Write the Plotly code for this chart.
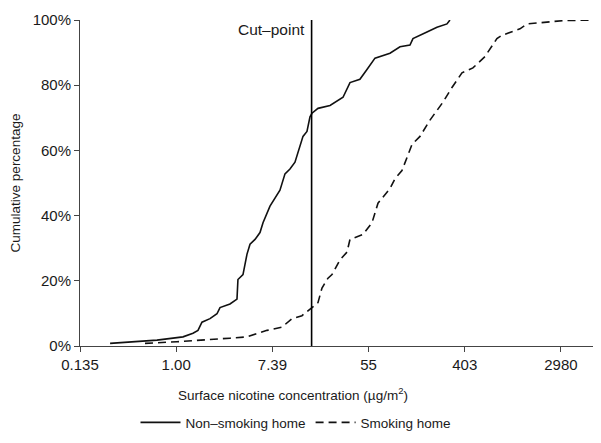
import math
import plotly.graph_objects as go

# Non-smoking homes: surface nicotine (ug/m2) vs cumulative percentage
nonsmoking_conc = [0.253, 0.671, 1.152, 1.418, 1.573, 1.709, 2.02, 2.335, 2.487, 3.06,
                   3.54, 3.61, 4.01, 4.36, 4.64, 5.15, 5.71, 6.08, 7.03, 8.65,
                   9.60, 10.65, 11.82, 13.12, 13.96, 15.17, 16.15, 16.83, 19.07, 24.5,
                   32.1, 37.1, 45.6, 52.8, 62.4, 85.2, 104.9, 129.1, 137.4, 183.8,
                   226.3, 278.7, 296.5]
nonsmoking_pct = [0.8, 1.8, 2.8, 3.9, 4.8, 7.3, 8.4, 9.9, 11.8, 12.9,
                  14.4, 20.4, 21.9, 28.2, 31.2, 32.7, 34.8, 37.8, 42.9, 47.8,
                  52.8, 54.3, 56.4, 61.8, 64.3, 65.8, 70.3, 71.4, 72.9, 73.8,
                  76.3, 80.8, 81.8, 84.8, 88.3, 89.8, 91.8, 92.3, 94.3, 96.3,
                  97.8, 98.8, 100.0]

# Smoking homes
smoking_conc = [0.523, 1.017, 3.06, 4.36, 6.61, 9.03, 11.10, 13.67, 16.83, 19.07,
                20.72, 23.48, 25.51, 30.12, 34.85, 37.08, 48.6, 58.6, 66.4, 72.2,
                85.2, 94.5, 109.3, 134.6, 159.0, 195.8, 256.4, 309.2, 380.6, 478.0,
                614.0, 787.0, 874.0, 1271.0, 1470.0, 3110.0, 5800.0]
smoking_pct = [0.8, 1.3, 2.4, 2.8, 4.8, 5.8, 8.4, 9.3, 11.8, 13.3,
               17.8, 20.8, 21.9, 26.4, 28.8, 32.7, 34.2, 37.8, 43.8, 45.3,
               48.3, 51.3, 53.8, 61.8, 64.3, 69.3, 74.8, 79.3, 83.8, 85.3,
               88.8, 94.3, 95.3, 97.3, 98.8, 99.8, 100.0]

cut_point = 16.7

x_tick_exps = [-2, 0, 2, 4, 6, 8]
x_tick_labels = ["0.135", "1.00", "7.39", "55", "403", "2980"]
y_ticks = [0, 20, 40, 60, 80, 100]
y_tick_labels = ["0%", "20%", "40%", "60%", "80%", "100%"]

FONT = "Liberation Sans, Arial, sans-serif"
TXT = "#1a1a1a"
AX = "#444444"

fig = go.Figure()
fig.add_trace(go.Scatter(x=nonsmoking_conc, y=nonsmoking_pct, mode="lines",
                         name="Non\u2013smoking home",
                         line=dict(color="#111111", width=1.6)))
fig.add_trace(go.Scatter(x=smoking_conc, y=smoking_pct, mode="lines",
                         name="Smoking home",
                         line=dict(color="#111111", width=1.6, dash="8px,5px")))
fig.add_trace(go.Scatter(x=[cut_point, cut_point], y=[0, 100], mode="lines",
                         showlegend=False, hoverinfo="skip",
                         line=dict(color="#000000", width=1.6)))

fig.add_annotation(x=math.log10(cut_point), y=97.2, xref="x", yref="y",
                   text="Cut\u2013point", showarrow=False, xanchor="right",
                   yanchor="middle", xshift=-5, font=dict(size=15.5, color=TXT, family=FONT))

# x-axis title, centred like the reference (left of the plot centre)
fig.add_annotation(x=0.411, y=-0.147, xref="paper", yref="paper",
                   text="Surface nicotine concentration (\u00b5g/m<sup>2</sup>)",
                   showarrow=False, xanchor="center", yanchor="middle",
                   font=dict(size=13.5, color=TXT, family=FONT))

# page body has an 8px margin, so the figure is sized/offset to compensate
fig.update_layout(
    width=593, height=435,
    margin=dict(l=72, r=3, t=5, b=97),
    paper_bgcolor="white", plot_bgcolor="white",
    font=dict(family=FONT, size=13.5, color=TXT),
    showlegend=True,
    legend=dict(orientation="h", x=0.417, xanchor="center", y=-0.235, yanchor="middle",
                font=dict(size=13.5, color=TXT), itemwidth=40, tracegroupgap=0),
)
fig.update_xaxes(
    type="log",
    range=[-2 / math.log(10), 8.77 / math.log(10)],
    tickvals=[math.exp(k) for k in x_tick_exps], ticktext=x_tick_labels,
    ticks="outside", ticklen=5, tickcolor=AX, tickfont=dict(size=15, color=TXT),
    ticklabeloverflow="allow",
    showline=True, linecolor=AX, linewidth=1, showgrid=False, zeroline=False,
)
fig.update_yaxes(
    range=[0, 100],
    tickvals=y_ticks, ticktext=y_tick_labels,
    ticks="outside", ticklen=5, tickcolor=AX, tickfont=dict(size=15, color=TXT),
    ticklabeloverflow="allow",
    showline=True, linecolor=AX, linewidth=1, showgrid=False, zeroline=False,
    title=dict(text="Cumulative percentage", font=dict(size=13.5, color=TXT), standoff=12),
)

fig.write_html("out.html")
